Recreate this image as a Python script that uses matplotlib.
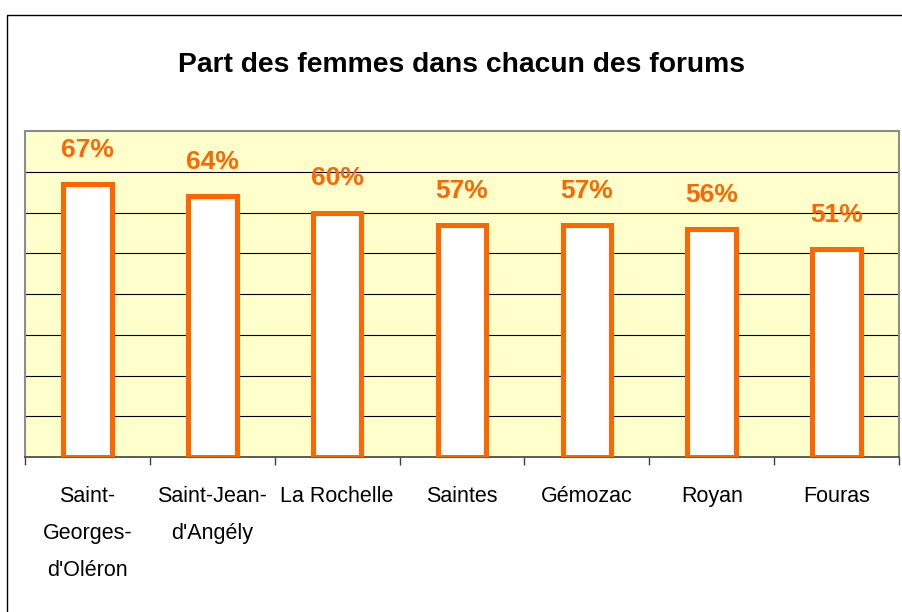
import numpy as np
import matplotlib.pyplot as plt
from matplotlib.patches import Rectangle

plt.rcParams['font.family'] = ['Liberation Sans', 'DejaVu Sans']

# donnees
forums = ["Saint-\nGeorges-\nd'Oléron", "Saint-Jean-\nd'Angély", "La Rochelle",
          "Saintes", "Gémozac", "Royan", "Fouras"]
part_femmes = [0.67, 0.64, 0.60, 0.57, 0.57, 0.56, 0.51]
etiquettes = ["67%", "64%", "60%", "57%", "57%", "56%", "51%"]

orange = "#FF6600"

fig = plt.figure(figsize=(9.03, 6.12), dpi=100)
ax = fig.add_axes([25 / 903, 1 - 457 / 612, 874 / 903, 326 / 612])

x = np.arange(len(forums))
ax.bar(x, part_femmes, width=0.39, color="white", edgecolor=orange, linewidth=3.6, zorder=3)

for xi, v, lab in zip(x, part_femmes, etiquettes):
    ax.annotate(lab, (xi, v), xytext=(0, 24.5), textcoords="offset points",
                ha="center", va="center", fontsize=19, fontweight="bold", color=orange)

ax.set_xlim(-0.5, len(forums) - 0.5)
ax.set_ylim(0, 0.8)
ax.set_facecolor("#FFFFCC")
ax.set_yticks(np.arange(0.1, 0.8, 0.1))
ax.yaxis.grid(True, color="black", linewidth=0.8, zorder=1)
ax.set_axisbelow(True)
ax.tick_params(axis="y", length=0, labelleft=False)

ax.set_xticks(x)
ax.set_xticklabels(forums, fontsize=15.5, linespacing=1.98, va="top")
ax.tick_params(axis="x", which="major", length=0, pad=21)
ax.set_xticks(np.arange(len(forums) + 1) - 0.5, minor=True)
ax.tick_params(axis="x", which="minor", length=6, width=1, color="#404040", direction="out")

for s in ["left", "top", "right"]:
    ax.spines[s].set_color("#8C8C8C")
    ax.spines[s].set_linewidth(1.5)
ax.spines["bottom"].set_color("#404040")
ax.spines["bottom"].set_linewidth(1.2)

fig.text(462 / 903, 1 - 72 / 612, "Part des femmes dans chacun des forums",
         ha="center", va="baseline", fontsize=20.3, fontweight="bold")

# cadre du graphique
fig.patches.append(Rectangle((7 / 903, -0.05), 1.1, 1 - 15 / 612 + 0.05,
                             transform=fig.transFigure, fill=False,
                             edgecolor="black", linewidth=1))

fig.savefig("out.png", dpi=100)
